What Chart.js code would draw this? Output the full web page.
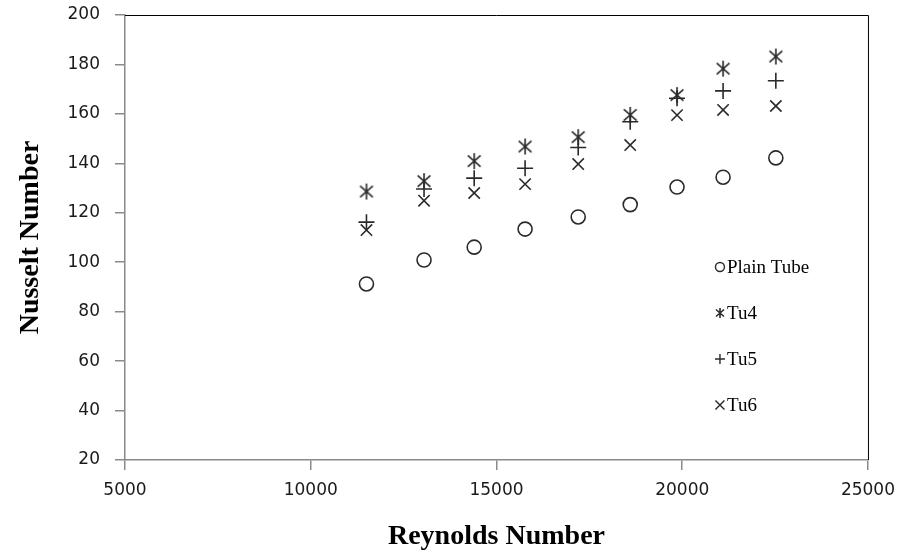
<!DOCTYPE html>
<html>
<head>
<meta charset="utf-8">
<script src="https://cdn.jsdelivr.net/npm/chart.js@4.4.0/dist/chart.umd.min.js"></script>
<style>
  html, body { margin: 0; padding: 0; background: #fff; }
  #wrap { width: 905px; height: 554px; }
</style>
</head>
<body>
<div id="wrap"><canvas id="nusseltChart" width="905" height="554"></canvas></div>
<script>
const reynolds = [11500, 13050, 14400, 15770, 17200, 18600, 19860, 21100, 22520];
const plainTube = [91.2, 100.9, 106.1, 113.4, 118.3, 123.3, 130.4, 134.4, 142.2];
const tu4 = [128.6, 132.8, 140.9, 146.8, 150.6, 159.6, 167.6, 178.3, 183.2];
const tu5 = [116.2, 129.6, 134.0, 138.0, 146.4, 156.8, 166.3, 169.3, 173.4];
const tu6 = [113.0, 124.9, 128.0, 131.6, 139.7, 147.4, 159.5, 161.6, 163.2];
const xTicks = [5000, 10000, 15000, 20000, 25000];
const yTicks = [20, 40, 60, 80, 100, 120, 140, 160, 180, 200];

const ink = '#2a2a2a';

function makeAsterisk(size) {
    const c = document.createElement('canvas');
    c.width = size; c.height = size;
    const g = c.getContext('2d');
    const m = size / 2, r = size / 2 - 1;
    g.strokeStyle = ink;
    g.lineWidth = 1.6;
    g.beginPath();
    g.moveTo(m - r * 0.8, m - r * 0.7); g.lineTo(m + r * 0.8, m + r * 0.7);
    g.moveTo(m + r * 0.8, m - r * 0.7); g.lineTo(m - r * 0.8, m + r * 0.7);
    g.moveTo(m, m - r); g.lineTo(m, m + r);
    g.stroke();
    return c;
}
const asterisk = makeAsterisk(18);
const asteriskSmall = makeAsterisk(12);

function pairs(ys) {
    return reynolds.map((x, i) => ({ x: x, y: ys[i] }));
}

// legend drawn inside the plot area, like the original
const insideLegend = {
    id: 'insideLegend',
    afterDraw(chart) {
        const ctx = chart.ctx;
        const area = chart.chartArea;
        ctx.save();
        // black frame on top and right
        ctx.strokeStyle = '#000';
        ctx.lineWidth = 1;
        ctx.beginPath();
        ctx.moveTo(area.left, area.top + 0.5);
        ctx.lineTo(area.right + 0.5, area.top + 0.5);
        ctx.lineTo(area.right + 0.5, area.bottom);
        ctx.stroke();

        const x0 = area.right - 148;
        let y = area.top + 252;
        ctx.font = '19px "Liberation Serif"';
        ctx.fillStyle = '#000';
        ctx.textBaseline = 'middle';
        chart.data.datasets.forEach((ds) => {
            ctx.strokeStyle = ink;
            ctx.lineWidth = 1.4;
            ctx.beginPath();
            if (ds.pointStyle === 'circle') {
                ctx.arc(x0, y, 4.5, 0, Math.PI * 2);
                ctx.stroke();
            } else if (ds.pointStyle === 'cross') {
                ctx.moveTo(x0 - 5, y); ctx.lineTo(x0 + 5, y);
                ctx.moveTo(x0, y - 5); ctx.lineTo(x0, y + 5);
                ctx.stroke();
            } else if (ds.pointStyle === 'crossRot') {
                ctx.moveTo(x0 - 4.5, y - 4.5); ctx.lineTo(x0 + 4.5, y + 4.5);
                ctx.moveTo(x0 + 4.5, y - 4.5); ctx.lineTo(x0 - 4.5, y + 4.5);
                ctx.stroke();
            } else {
                ctx.drawImage(asteriskSmall, x0 - 6, y - 6);
            }
            ctx.fillText(ds.label, x0 + 7, y + 1);
            y += 46;
        });
        ctx.restore();
    }
};

const ctx = document.getElementById('nusseltChart').getContext('2d');
const nusseltChart = new Chart(ctx, {
    type: 'scatter',
    data: {
        datasets: [
            { label: 'Plain Tube', data: pairs(plainTube), pointStyle: 'circle', pointRadius: 7,
              borderColor: ink, backgroundColor: 'rgba(0,0,0,0)', borderWidth: 1.6 },
            { label: 'Tu4', data: pairs(tu4), pointStyle: asterisk, pointRadius: 9,
              borderColor: ink, backgroundColor: ink },
            { label: 'Tu5', data: pairs(tu5), pointStyle: 'cross', pointRadius: 8,
              borderColor: ink, backgroundColor: ink, borderWidth: 1.6 },
            { label: 'Tu6', data: pairs(tu6), pointStyle: 'crossRot', pointRadius: 8,
              borderColor: ink, backgroundColor: ink, borderWidth: 1.6 }
        ]
    },
    options: {
        responsive: false,
        animation: false,
        layout: { padding: { left: 14, right: 37, top: 15, bottom: 0 } },
        plugins: {
            legend: { display: false },
            tooltip: { enabled: false }
        },
        scales: {
            x: {
                type: 'linear',
                min: 5000, max: 25000,
                afterBuildTicks: (scale) => { scale.ticks = xTicks.map(v => ({ value: v })); },
                afterFit: (scale) => { scale.height = 94; },
                border: { color: '#8a8a8a', width: 1.5 },
                grid: { drawOnChartArea: false, drawTicks: true, tickLength: 10, color: '#8a8a8a', lineWidth: 1.5 },
                ticks: { color: '#1a1a1a', padding: 10, font: { family: '"DejaVu Sans"', size: 17 }, maxRotation: 0,
                         callback: (v) => String(v) },
                title: { display: true, text: 'Reynolds Number', color: '#000', padding: { top: 10, bottom: 0 },
                         font: { family: '"Liberation Serif"', size: 28, weight: 'bold' } }
            },
            y: {
                min: 20, max: 200,
                afterBuildTicks: (scale) => { scale.ticks = yTicks.map(v => ({ value: v })); },
                afterFit: (scale) => { scale.width = 111; scale.paddingTop = 0; scale.paddingBottom = 0; },
                border: { color: '#8a8a8a', width: 1.5 },
                grid: { drawOnChartArea: false, drawTicks: true, tickLength: 10, color: '#8a8a8a', lineWidth: 1.5 },
                ticks: { color: '#1a1a1a', padding: 15, font: { family: '"DejaVu Sans"', size: 17 },
                         callback: (v) => String(v) },
                title: { display: true, text: 'Nusselt Number', color: '#000', padding: { top: 0, bottom: 0 },
                         font: { family: '"Liberation Serif"', size: 28, weight: 'bold' } }
            }
        }
    },
    plugins: [insideLegend]
});
</script>
</body>
</html>
